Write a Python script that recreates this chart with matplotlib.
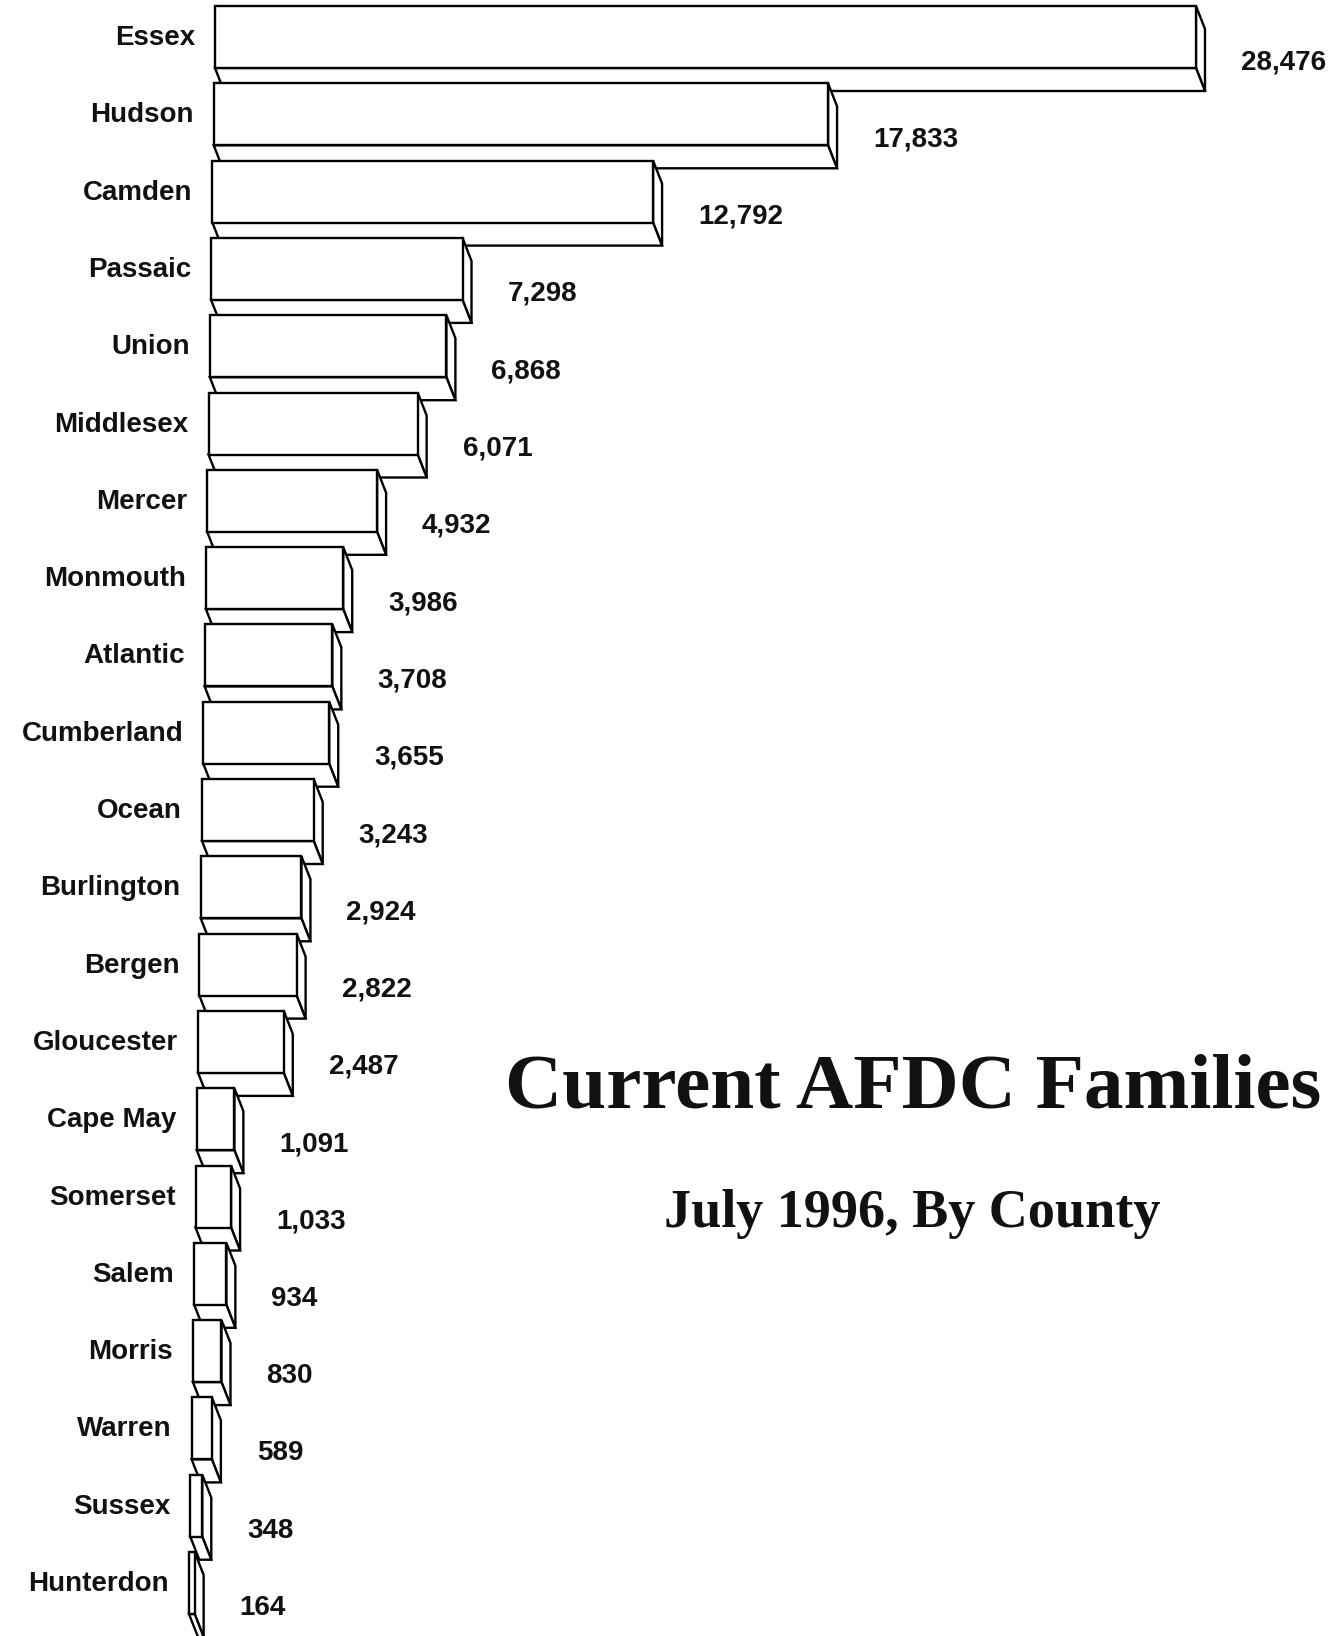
import matplotlib
matplotlib.use("Agg")
import matplotlib.pyplot as plt
from matplotlib.patches import Polygon

# AFDC families by county, July 1996
counties = ["Essex", "Hudson", "Camden", "Passaic", "Union", "Middlesex", "Mercer",
            "Monmouth", "Atlantic", "Cumberland", "Ocean", "Burlington", "Bergen",
            "Gloucester", "Cape May", "Somerset", "Salem", "Morris", "Warren",
            "Sussex", "Hunterdon"]
families = [28476, 17833, 12792, 7298, 6868, 6071, 4932, 3986, 3708, 3655, 3243,
            2924, 2822, 2487, 1091, 1033, 934, 830, 589, 348, 164]

title = "Current AFDC Families"
subtitle = "July 1996, By County"

W, H = 1340, 1636
fig = plt.figure(figsize=(W / 100, H / 100), dpi=100)
ax = fig.add_axes([0, 0, 1, 1])

# scales: value units across, one row per county down
px_per_unit = 0.03445
x_origin_px = 215
row_px = 77.3
top_px = 6
ax.set_xlim(-x_origin_px / px_per_unit, (W - x_origin_px) / px_per_unit)
ax.set_ylim((H - top_px) / row_px, -top_px / row_px)
ax.axis("off")

# 3d look: front face height, depth offset and a slight leftward lean per row
face_h = 62 / row_px
depth_x = 9 / px_per_unit
depth_y = 23 / row_px
lean = 1.3 / px_per_unit
lw = 1.7

label_font = dict(family=["Liberation Sans", "DejaVu Sans"], fontweight="bold", fontsize=20)

for i, (name, val) in enumerate(zip(counties, families)):
    left = -lean * i
    right = left + val
    top = i
    bot = i + face_h
    z = 2 + i * 3

    side = Polygon([(right, top), (right + depth_x, top + depth_y),
                    (right + depth_x, bot + depth_y), (right, bot)],
                   closed=True, facecolor="white", edgecolor="black", lw=lw,
                   joinstyle="miter", zorder=z)
    under = Polygon([(left, bot), (right, bot), (right + depth_x, bot + depth_y),
                     (left + depth_x, bot + depth_y)],
                    closed=True, facecolor="white", edgecolor="black", lw=lw,
                    joinstyle="miter", zorder=z)
    front = Polygon([(left, top), (right, top), (right, bot), (left, bot)],
                    closed=True, facecolor="white", edgecolor="black", lw=lw,
                    joinstyle="miter", zorder=z + 1)
    ax.add_patch(side)
    ax.add_patch(under)
    ax.add_patch(front)

    ax.text(left - 20 / px_per_unit, i + 32 / row_px, name, ha="right", va="center",
            color="#111111", **label_font)
    ax.text(right + depth_x + 36 / px_per_unit, i + 56 / row_px, f"{val:,}",
            ha="left", va="center", color="#111111", **label_font)

# titles
fig.text(913 / W, 1 - 1108 / H, title, ha="center", va="baseline",
         family=["Liberation Serif", "DejaVu Serif"], fontweight="bold",
         fontsize=57, color="#111111")
fig.text(912 / W, 1 - 1227 / H, subtitle, ha="center", va="baseline",
         family=["Liberation Serif", "DejaVu Serif"], fontweight="bold",
         fontsize=39, color="#111111")

fig.savefig("out.png", dpi=100, facecolor="white")
